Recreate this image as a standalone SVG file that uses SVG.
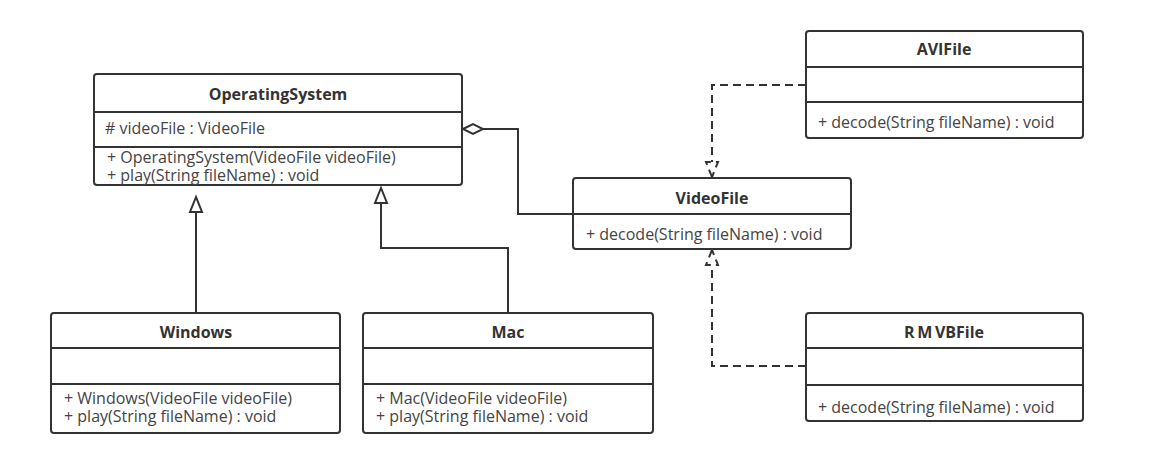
<svg xmlns="http://www.w3.org/2000/svg" width="1156" height="468" viewBox="0 0 1156 468">
<style>
.box{fill:#fff;stroke:#333;stroke-width:2}
.div{stroke:#333;stroke-width:2}
.t{font-family:"Open Sans","Liberation Sans",sans-serif;font-size:16px;font-weight:bold;fill:#333;text-anchor:middle}
.m{font-family:"Open Sans","Liberation Sans",sans-serif;font-size:16px;fill:#444}
.ln{fill:none;stroke:#333;stroke-width:2}
.dash{fill:none;stroke:#333;stroke-width:2;stroke-dasharray:8 5}
</style>
<rect width="1156" height="468" fill="#fff"/>
<g id="connectors">
  <polyline class="ln" points="196,313 196,212"/>
  <polygon class="ln" fill="#fff" points="196,197 190,212 202,212"/>
  <polyline class="ln" points="508,313 508,248 381,248 381,203"/>
  <polygon class="ln" fill="#fff" points="381,188 375,203 387,203"/>
  <polyline class="ln" points="573,214 518,214 518,129 483,129"/>
  <polygon class="ln" fill="#fff" points="463,129 473,124 483,129 473,134"/>
  <polyline class="dash" points="806,85 712,85 712,162"/>
  <polygon class="dash" points="712,177 706,162 718,162"/>
  <polyline class="dash" points="806,366 712,366 712,265"/>
  <polygon class="dash" points="712,250 706,265 718,265"/>
</g>
<g id="OperatingSystem">
  <rect class="box" x="94" y="74" width="368" height="111" rx="3"/>
  <line class="div" x1="94" y1="112" x2="462" y2="112"/>
  <line class="div" x1="94" y1="147" x2="462" y2="147"/>
  <text class="t" x="278" y="100">OperatingSystem</text>
  <text class="m" x="105" y="134"># videoFile : VideoFile</text>
  <text class="m" x="107" y="163">+ OperatingSystem(VideoFile videoFile)</text>
  <text class="m" x="107" y="181">+ play(String fileName) : void</text>
</g>
<g id="VideoFile">
  <rect class="box" x="573" y="178" width="278" height="71" rx="3"/>
  <line class="div" x1="573" y1="214" x2="851" y2="214"/>
  <text class="t" x="712" y="204">VideoFile</text>
  <text class="m" x="586" y="240">+ decode(String fileName) : void</text>
</g>
<g id="AVIFile">
  <rect class="box" x="806" y="31" width="277" height="107" rx="3"/>
  <line class="div" x1="806" y1="67" x2="1083" y2="67"/>
  <line class="div" x1="806" y1="102" x2="1083" y2="102"/>
  <text class="t" x="944" y="55">AVIFile</text>
  <text class="m" x="818" y="128">+ decode(String fileName) : void</text>
</g>
<g id="RMVBFile">
  <rect class="box" x="806" y="313" width="277" height="108" rx="3"/>
  <line class="div" x1="806" y1="348" x2="1083" y2="348"/>
  <line class="div" x1="806" y1="385" x2="1083" y2="385"/>
  <text class="t" x="944" y="338" word-spacing="-1.5">R M VBFile</text>
  <text class="m" x="818" y="413">+ decode(String fileName) : void</text>
</g>
<g id="Windows">
  <rect class="box" x="51" y="313" width="289" height="120" rx="3"/>
  <line class="div" x1="51" y1="348" x2="340" y2="348"/>
  <line class="div" x1="51" y1="384" x2="340" y2="384"/>
  <text class="t" x="196" y="338">Windows</text>
  <text class="m" x="64" y="404">+ Windows(VideoFile videoFile)</text>
  <text class="m" x="64" y="422">+ play(String fileName) : void</text>
</g>
<g id="Mac">
  <rect class="box" x="363" y="313" width="290" height="120" rx="3"/>
  <line class="div" x1="363" y1="348" x2="653" y2="348"/>
  <line class="div" x1="363" y1="384" x2="653" y2="384"/>
  <text class="t" x="508" y="338">Mac</text>
  <text class="m" x="376" y="404">+ Mac(VideoFile videoFile)</text>
  <text class="m" x="376" y="422">+ play(String fileName) : void</text>
</g>
</svg>
